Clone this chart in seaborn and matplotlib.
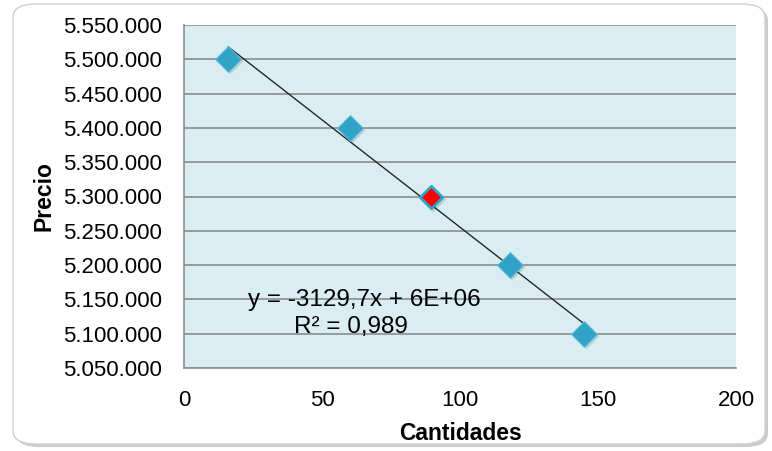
import numpy as np
import pandas as pd
import matplotlib
matplotlib.use("Agg")
import matplotlib.pyplot as plt
from matplotlib.patches import FancyBboxPatch
from matplotlib.ticker import FuncFormatter
import seaborn as sns

# Data
cantidades = [16, 60, 89.5, 118, 145]
precios = [5500000, 5400000, 5300000, 5200000, 5100000]
highlight = [False, False, True, False, False]
eq_text = "y = -3129,7x + 6E+06"
r2_text = "R² = 0,989"
x_ticks = [0, 50, 100, 150, 200]
y_ticks = list(range(5050000, 5550001, 50000))

df = pd.DataFrame({"Cantidades": cantidades, "Precio": precios, "hl": highlight})

sns.set_theme(style="white")
plt.rcParams["font.family"] = ["Liberation Sans", "DejaVu Sans"]
plt.rcParams["text.color"] = "black"
plt.rcParams["axes.labelcolor"] = "black"

fig = plt.figure(figsize=(7.72, 4.51), dpi=100)
fig.patch.set_facecolor("white")

# rounded chart border with shadow
shadow = FancyBboxPatch((16 / 772, 1 - 447 / 451), 752 / 772, 440 / 451,
                        boxstyle="round,pad=0,rounding_size=0.03",
                        transform=fig.transFigure, facecolor="#9a9a9a",
                        edgecolor="none", alpha=0.5, zorder=-10)
border = FancyBboxPatch((13 / 772, 1 - 444 / 451), 752 / 772, 440 / 451,
                        boxstyle="round,pad=0,rounding_size=0.03",
                        transform=fig.transFigure, facecolor="white",
                        edgecolor="#d0d0d0", linewidth=1.0, zorder=-9)
fig.add_artist(shadow)
fig.add_artist(border)

ax = fig.add_axes([184 / 772, 1 - 368 / 451, (736 - 184) / 772, (368 - 25) / 451])
ax.set_zorder(5)
ax.set_facecolor("#daedf3")

# trendline from least squares over data
coef = np.polyfit(cantidades, precios, 1)
xs = np.array([min(cantidades), max(cantidades)])
ax.plot(xs, np.polyval(coef, xs), color="#262626", linewidth=1.0, zorder=3)

# shadows for markers
ax.scatter(np.array(cantidades) + 0.8, np.array(precios) - 3000, marker="D", s=170,
           color="#7a9aa5", alpha=0.35, linewidths=0, zorder=2)
sns.scatterplot(data=df[~df["hl"]], x="Cantidades", y="Precio", marker="D", s=170,
                color="#30a3c6", edgecolor="#58b8d6", linewidth=0.8, ax=ax, zorder=4)
sns.scatterplot(data=df[df["hl"]], x="Cantidades", y="Precio", marker="D", s=130,
                color="#ff0000", edgecolor="#30a3c6", linewidth=2.0, ax=ax, zorder=4)

ax.set_xlim(0, 200)
ax.set_ylim(5050000, 5550000)
ax.set_xticks(x_ticks)
ax.set_yticks(y_ticks)
ax.yaxis.set_major_formatter(FuncFormatter(lambda v, p: f"{int(round(v)):,}".replace(",", ".")))
ax.yaxis.grid(True, color="#8c8c8c", linewidth=1.2)
ax.xaxis.grid(False)
ax.set_axisbelow(True)
for s in ["top", "right"]:
    ax.spines[s].set_visible(False)
for s in ["left", "bottom"]:
    ax.spines[s].set_color("#8c8c8c")
    ax.spines[s].set_linewidth(1.2)
ax.tick_params(axis="both", which="major", direction="out", length=7, width=1.2,
               color="#8c8c8c", labelsize=16, labelcolor="black")
ax.tick_params(axis="y", pad=9)
ax.tick_params(axis="x", pad=9)

ax.set_xlabel("Cantidades", fontsize=16.5, fontweight="bold", labelpad=8, color="black")
ax.set_ylabel("Precio", fontsize=16.5, fontweight="bold", labelpad=5, color="black")

ax.text(65.5, 5149000, eq_text, fontsize=17.5, ha="center", va="center", zorder=5, color="black")
ax.text(60.5, 5110000, r2_text, fontsize=17.5, ha="center", va="center", zorder=5, color="black")

fig.savefig("out.png", dpi=100)
